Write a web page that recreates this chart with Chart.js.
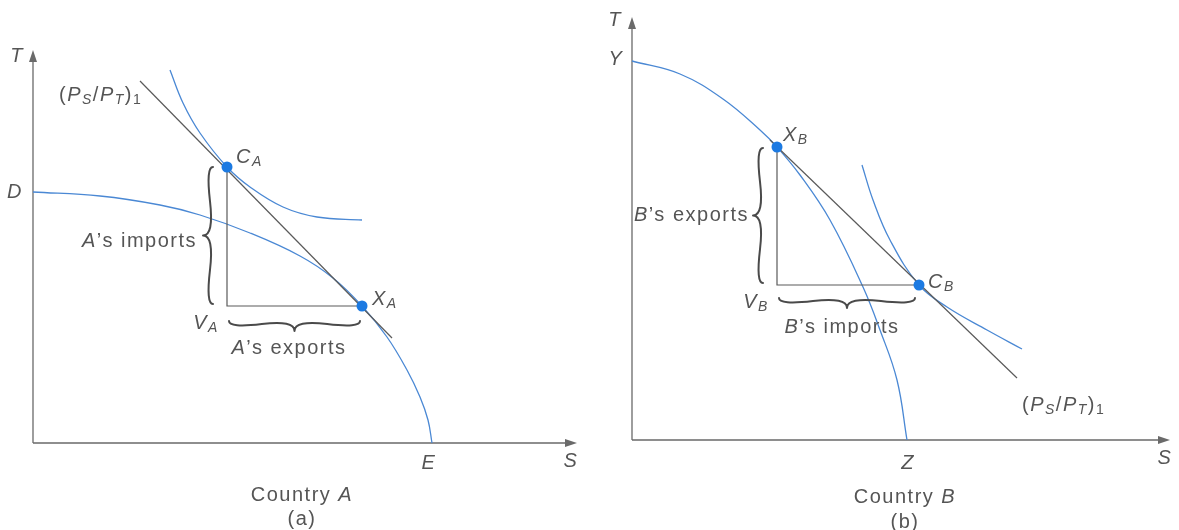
<!DOCTYPE html>
<html>
<head>
<meta charset="utf-8">
<script src="https://cdn.jsdelivr.net/npm/chart.js@4.4.1/dist/chart.umd.min.js"></script>
<style>
	html, body { margin: 0; padding: 0; background: #fff; }
	#wrap { position: relative; width: 1179px; height: 530px; }
	canvas { position: absolute; top: 0; }
	#chart-a { left: 0; }
	#chart-b { left: 600px; }
</style>
</head>
<body>
<div id="wrap">
	<canvas id="chart-a" width="600" height="530"></canvas>
	<canvas id="chart-b" width="579" height="530"></canvas>
</div>
<script>
//------------------------------------------------------------
// Data (S on x, T on y)
//------------------------------------------------------------
// Country A
const A_PPF_S = [0, 67, 127, 167, 217, 267, 300, 329, 354, 374, 387, 395, 399];
const A_PPF_T = [251, 247, 238, 228, 210, 187, 165, 137, 106, 73, 46, 23, 0];
const A_IC_S = [137, 150, 167, 194, 217, 250, 284, 329];
const A_IC_T = [373, 340, 310, 276, 256, 236, 226, 223];
const A_PRICE_S = [107, 359];
const A_PRICE_T = [362, 105];
const A_CONSUME = [194, 276]; // C_A
const A_PRODUCE = [329, 137]; // X_A

// Country B
const B_PPF_S = [0, 48, 91, 128, 145, 168, 198, 231, 248, 265, 275];
const B_PPF_T = [379, 366, 341, 310, 293, 265, 220, 153, 110, 60, 0];
const B_IC_S = [230, 241, 258, 287, 315, 355, 390];
const B_IC_T = [275, 240, 200, 155, 133, 110, 91];
const B_PRICE_S = [138, 385];
const B_PRICE_T = [300, 62];
const B_PRODUCE = [145, 293]; // X_B
const B_CONSUME = [287, 155]; // C_B

const COLORS = {
	curve: "#4a88d4",
	dot: "#1c7ae2",
	line: "#5a5a5a",
	brace: "#4a4a4a",
	axis: "#6a6a6a",
	text: "#555555",
};
const FONT = '"Liberation Sans", Arial, sans-serif';

const zip = (xs, ys) => xs.map((x, i) => ({ x, y: ys[i] }));
const pt = (p) => ({ x: p[0], y: p[1] });

//------------------------------------------------------------
// Drawing helpers
//------------------------------------------------------------
const runFont = (r) => (r[1].includes("i") ? "italic " : "") + (r[1].includes("s") ? 14 : 20) + "px " + FONT;

const drawRuns = (ctx, runs, x, y, align) => {
	ctx.save();
	ctx.letterSpacing = "1.5px";
	let w = 0;
	const widths = runs.map((r) => {
		ctx.font = runFont(r);
		const m = ctx.measureText(r[0]).width;
		w += m;
		return m;
	});
	let cx = align === "center" ? x - w / 2 : align === "right" ? x - w : x;
	ctx.textBaseline = "middle";
	ctx.textAlign = "left";
	ctx.fillStyle = COLORS.text;
	runs.forEach((r, i) => {
		ctx.font = runFont(r);
		ctx.fillText(r[0], cx, y + (r[1].includes("s") ? 5 : 0));
		cx += widths[i];
	});
	ctx.restore();
};

// curly brace between two pixel points, bulging to the left of the travel direction
const drawBrace = (ctx, x1, y1, x2, y2, w, q) => {
	let dx = x1 - x2;
	let dy = y1 - y2;
	const len = Math.hypot(dx, dy);
	dx /= len;
	dy /= len;
	const qx1 = x1 + q * w * dy, qy1 = y1 - q * w * dx;
	const qx2 = x1 - 0.25 * len * dx + (1 - q) * w * dy, qy2 = y1 - 0.25 * len * dy - (1 - q) * w * dx;
	const tx = x1 - 0.5 * len * dx + w * dy, ty = y1 - 0.5 * len * dy - w * dx;
	const qx3 = x2 + q * w * dy, qy3 = y2 - q * w * dx;
	const qx4 = x1 - 0.75 * len * dx + (1 - q) * w * dy, qy4 = y1 - 0.75 * len * dy - (1 - q) * w * dx;
	ctx.beginPath();
	ctx.moveTo(x1, y1);
	ctx.quadraticCurveTo(qx1, qy1, qx2, qy2);
	ctx.quadraticCurveTo(2 * qx2 - qx1, 2 * qy2 - qy1, tx, ty);
	ctx.moveTo(x2, y2);
	ctx.quadraticCurveTo(qx3, qy3, qx4, qy4);
	ctx.quadraticCurveTo(2 * qx4 - qx3, 2 * qy4 - qy3, tx, ty);
	ctx.stroke();
};

const diagramPlugin = {
	id: "diagram",
	beforeDatasetsDraw(chart) {
		const { ctx, chartArea: { left, right, top, bottom } } = chart;
		ctx.save();
		ctx.strokeStyle = COLORS.axis;
		ctx.fillStyle = COLORS.axis;
		ctx.lineWidth = 1.3;
		ctx.beginPath();
		ctx.moveTo(left, bottom);
		ctx.lineTo(left, top + 6);
		ctx.moveTo(left, bottom);
		ctx.lineTo(right - 6, bottom);
		ctx.stroke();
		ctx.beginPath();
		ctx.moveTo(left, top);
		ctx.lineTo(left - 4, top + 12);
		ctx.lineTo(left + 4, top + 12);
		ctx.closePath();
		ctx.moveTo(right, bottom);
		ctx.lineTo(right - 12, bottom - 4);
		ctx.lineTo(right - 12, bottom + 4);
		ctx.closePath();
		ctx.fill();
		ctx.restore();
	},
	afterDatasetsDraw(chart, args, opts) {
		const { ctx, scales: { x, y } } = chart;
		const px = (p) => [x.getPixelForValue(p[0]), y.getPixelForValue(p[1])];
		ctx.save();
		ctx.strokeStyle = COLORS.brace;
		ctx.lineWidth = 2;
		ctx.lineCap = "round";
		(opts.braces || []).forEach((b) => {
			const a = px(b.from);
			const c = px(b.to);
			drawBrace(ctx, a[0] + b.o1[0], a[1] + b.o1[1], c[0] + b.o2[0], c[1] + b.o2[1], 10, 0.7);
		});
		ctx.restore();
		(opts.labels || []).forEach((l) => {
			const p = px(l.at);
			drawRuns(ctx, l.runs, p[0] + l.dx, p[1] + l.dy, l.align || "center");
		});
	},
};

const curve = (data, color, width) => ({
	data,
	showLine: true,
	borderColor: color,
	borderWidth: width || 1.3,
	pointRadius: 0,
	tension: 0.4,
	fill: false,
	clip: false,
});
const straight = (data) => ({ ...curve(data, COLORS.line, 1.2), tension: 0 });
const dots = (data) => ({
	data,
	showLine: false,
	pointRadius: 5.5,
	pointBackgroundColor: COLORS.dot,
	pointBorderWidth: 0,
	clip: false,
});

const makeDiagram = (id, datasets, xMax, yMax, padding, labels, braces) =>
	new Chart(document.getElementById(id), {
		type: "scatter",
		data: { datasets },
		options: {
			responsive: false,
			animation: false,
			events: [],
			layout: { padding },
			scales: {
				x: { type: "linear", min: 0, max: xMax, display: false },
				y: { type: "linear", min: 0, max: yMax, display: false },
			},
			plugins: {
				legend: { display: false },
				tooltip: { enabled: false },
				diagram: { labels, braces },
			},
		},
		plugins: [diagramPlugin],
	});

const PRICE_LABEL = [["(", ""], ["P", "i"], ["S", "is"], ["/", ""], ["P", "i"], ["T", "is"], [")", ""], ["1", "s"]];

//------------------------------------------------------------
// Country A
//------------------------------------------------------------
const A_CORNER = [A_CONSUME[0], A_PRODUCE[1]]; // V_A
makeDiagram(
	"chart-a",
	[
		dots([pt(A_CONSUME), pt(A_PRODUCE)]),
		straight([pt(A_CONSUME), pt(A_CORNER), pt(A_PRODUCE)]),
		straight(zip(A_PRICE_S, A_PRICE_T)),
		curve(zip(A_IC_S, A_IC_T), COLORS.curve),
		curve(zip(A_PPF_S, A_PPF_T), COLORS.curve),
	],
	544,
	393,
	{ left: 33, top: 50, right: 23, bottom: 87 },
	[
		{ at: [0, 393], dx: -16, dy: 6, runs: [["T", "i"]] },
		{ at: [0, A_PPF_T[0]], dx: -18, dy: 0, runs: [["D", "i"]] },
		{ at: [A_PRICE_S[0], A_PRICE_T[0]], dx: -81, dy: 14, runs: PRICE_LABEL, align: "left" },
		{ at: A_CONSUME, dx: 9, dy: -10, runs: [["C", "i"], ["A", "is"]], align: "left" },
		{ at: A_PRODUCE, dx: 10, dy: -7, runs: [["X", "i"], ["A", "is"]], align: "left" },
		{ at: A_CORNER, dx: -21, dy: 17, runs: [["V", "i"], ["A", "is"]] },
		{ at: A_CONSUME, dx: -30, dy: 74, runs: [["A", "i"], ["’s imports", ""]], align: "right" },
		{ at: A_CORNER, dx: 62, dy: 42, runs: [["A", "i"], ["’s exports", ""]] },
		{ at: [A_PPF_S[A_PPF_S.length - 1], 0], dx: -3, dy: 20, runs: [["E", "i"]] },
		{ at: [544, 0], dx: -6, dy: 18, runs: [["S", "i"]] },
		{ at: [269, 0], dx: 0, dy: 52, runs: [["Country ", ""], ["A", "i"]] },
		{ at: [269, 0], dx: 0, dy: 76, runs: [["(a)", ""]] },
	],
	[
		{ from: A_CONSUME, to: A_CORNER, o1: [-14, 0], o2: [-14, -2] },
		{ from: A_CORNER, to: A_PRODUCE, o1: [2, 15], o2: [-2, 15] },
	]
);

//------------------------------------------------------------
// Country B
//------------------------------------------------------------
const B_CORNER = [B_PRODUCE[0], B_CONSUME[1]]; // V_B
makeDiagram(
	"chart-b",
	[
		dots([pt(B_PRODUCE), pt(B_CONSUME)]),
		straight([pt(B_PRODUCE), pt(B_CORNER), pt(B_CONSUME)]),
		straight(zip(B_PRICE_S, B_PRICE_T)),
		curve(zip(B_IC_S, B_IC_T), COLORS.curve),
		curve(zip(B_PPF_S, B_PPF_T), COLORS.curve),
	],
	538,
	423,
	{ left: 32, top: 17, right: 9, bottom: 90 },
	[
		{ at: [0, 423], dx: -17, dy: 3, runs: [["T", "i"]] },
		{ at: [0, B_PPF_T[0]], dx: -16, dy: -2, runs: [["Y", "i"]] },
		{ at: B_PRODUCE, dx: 6, dy: -12, runs: [["X", "i"], ["B", "is"]], align: "left" },
		{ at: B_CONSUME, dx: 9, dy: -3, runs: [["C", "i"], ["B", "is"]], align: "left" },
		{ at: B_CORNER, dx: -21, dy: 17, runs: [["V", "i"], ["B", "is"]] },
		{ at: B_PRODUCE, dx: -28, dy: 68, runs: [["B", "i"], ["’s exports", ""]], align: "right" },
		{ at: B_CORNER, dx: 65, dy: 42, runs: [["B", "i"], ["’s imports", ""]] },
		{ at: [B_PRICE_S[1], B_PRICE_T[1]], dx: 5, dy: 27, runs: PRICE_LABEL, align: "left" },
		{ at: [B_PPF_S[B_PPF_S.length - 1], 0], dx: 1, dy: 23, runs: [["Z", "i"]] },
		{ at: [538, 0], dx: -5, dy: 18, runs: [["S", "i"]] },
		{ at: [273, 0], dx: 0, dy: 57, runs: [["Country ", ""], ["B", "i"]] },
		{ at: [273, 0], dx: 0, dy: 82, runs: [["(b)", ""]] },
	],
	[
		{ from: B_PRODUCE, to: B_CORNER, o1: [-14, 1], o2: [-14, -2] },
		{ from: B_CORNER, to: B_CONSUME, o1: [2, 13], o2: [-4, 13] },
	]
);
</script>
</body>
</html>
